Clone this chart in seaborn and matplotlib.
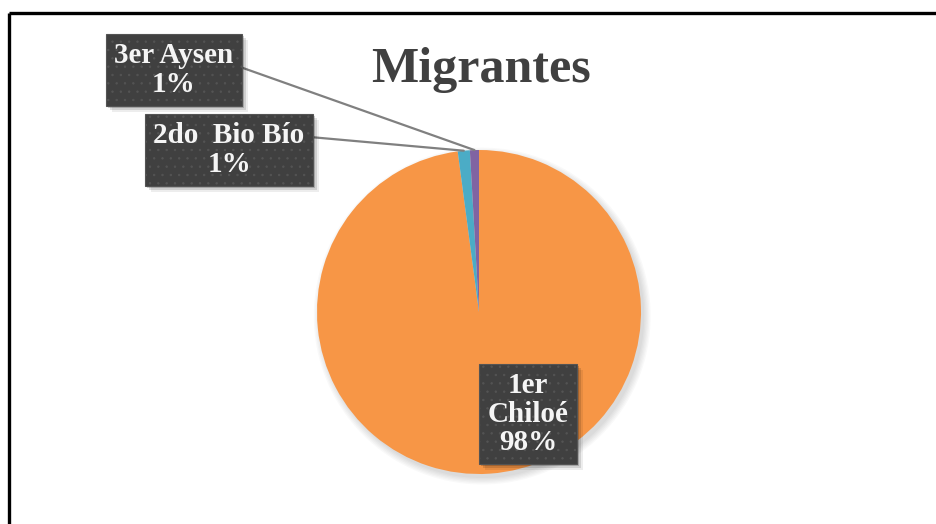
import matplotlib
matplotlib.use("Agg")
import matplotlib.pyplot as plt
import matplotlib.patches as mpatches
from matplotlib.lines import Line2D
from matplotlib.transforms import IdentityTransform
import seaborn as sns
import numpy as np
from typing import List, Tuple

# data
categories: List[str] = ["1er\nChiloé", "2do  Bio Bío", "3er Aysen"]
shares: List[float] = [97.9, 1.2, 0.9]
chart_title: str = "Migrantes"

FIG_W, FIG_H = 936, 524
PIE_CENTER = (479, 212)   # figure pixels, origin bottom-left
PIE_RADIUS = 162

# label boxes: centre of box and leader start (figure pixels)
label_layout = {
    "1er\nChiloé": dict(center=(528, 110), leader=None),
    "2do  Bio Bío": dict(center=(229, 374), leader=(310, 387)),
    "3er Aysen": dict(center=(174, 454), leader=(243, 456)),
}


def setup_figure() -> Tuple[plt.Figure, plt.Axes]:
    sns.set_theme(style="white")
    plt.rcParams["font.family"] = ["Liberation Serif", "DejaVu Serif"]
    plt.rcParams["hatch.linewidth"] = 0.5
    fig = plt.figure(figsize=(FIG_W / 100, FIG_H / 100), dpi=100)
    fig.patch.set_facecolor("white")
    cx, cy = PIE_CENTER
    r = PIE_RADIUS
    ax = fig.add_axes([(cx - r) / FIG_W, (cy - r) / FIG_H, 2 * r / FIG_W, 2 * r / FIG_H])
    return fig, ax


def draw_frame(fig: plt.Figure) -> None:
    # only the top and left edge of the chart frame are inside the crop
    fig.add_artist(Line2D([9, FIG_W], [FIG_H - 13, FIG_H - 13], transform=IdentityTransform(),
                          color="black", linewidth=2.4, solid_capstyle="butt"))
    fig.add_artist(Line2D([9, 9], [0, FIG_H - 13], transform=IdentityTransform(),
                          color="black", linewidth=2.4, solid_capstyle="butt"))


def draw_pie(ax: plt.Axes) -> list:
    palette = ["#F79646", "#4BACC6", "#8064A2"]
    # soft drop shadow behind the pie
    for i in range(6):
        ax.add_patch(mpatches.Circle((0.02, -0.025), 1.0 + 0.008 * i, color="#000000",
                                     alpha=0.025, linewidth=0, clip_on=False, zorder=0))
    wedges, _ = ax.pie(shares, colors=palette, startangle=90, counterclock=False,
                       radius=1.0, wedgeprops=dict(linewidth=0, antialiased=True))
    for w in wedges:
        w.set_zorder(2)
    ax.set_xlim(-1, 1)
    ax.set_ylim(-1, 1)
    ax.set_aspect("equal")
    ax.axis("off")
    return wedges


def draw_labels(fig: plt.Figure, ax: plt.Axes, wedges: list) -> None:
    box = dict(boxstyle="square,pad=0.28", facecolor="#404040", edgecolor="#545454",
               hatch="..", linewidth=0.8)
    texts = []
    for cat, share, w in zip(categories, shares, wedges):
        text = f"{cat}\n{round(share):.0f}%"
        lay = label_layout[cat]
        bx, by = lay["center"]
        if lay["leader"] is not None:
            mid = np.deg2rad((w.theta1 + w.theta2) / 2)
            ax.annotate("", xy=(np.cos(mid), np.sin(mid)), xycoords="data",
                        xytext=lay["leader"], textcoords="figure pixels",
                        arrowprops=dict(arrowstyle="-", color="#808080", lw=1.6,
                                        shrinkA=0, shrinkB=0),
                        annotation_clip=False, zorder=3)
        t = fig.text(bx, by, text, transform=IdentityTransform(), ha="center", va="center",
                     fontsize=21, fontweight="bold", color="#F5F5F5", linespacing=1.08,
                     bbox=box, zorder=5)
        texts.append(t)

    # soft drop shadow under each box, sized from the rendered box
    fig.canvas.draw()
    for t in texts:
        ext = t.get_bbox_patch().get_window_extent()
        for off, a in [(2, 0.18), (4, 0.12), (6, 0.07)]:
            fig.add_artist(mpatches.Rectangle((ext.x0 + off, ext.y0 - off), ext.width, ext.height,
                                              transform=IdentityTransform(), facecolor="#000000",
                                              alpha=a, linewidth=0, zorder=4))


def main() -> None:
    fig, ax = setup_figure()
    draw_frame(fig)
    wedges = draw_pie(ax)
    draw_labels(fig, ax, wedges)
    fig.text(481, FIG_H - 82, chart_title, transform=IdentityTransform(), ha="center",
             va="baseline", fontsize=36, fontweight="bold", color="#404040")
    fig.savefig("out.png", dpi=100, facecolor="white")
    plt.close(fig)


if __name__ == "__main__":
    main()
